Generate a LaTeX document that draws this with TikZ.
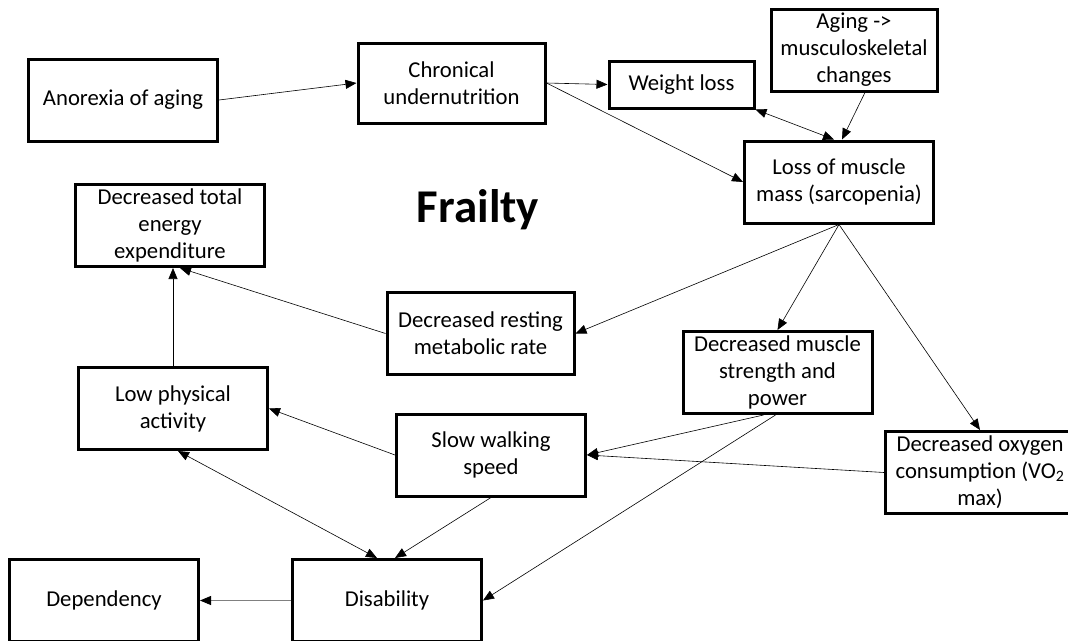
\documentclass[tikz,border=0pt]{standalone}
\usepackage{fontspec}
\setmainfont{Carlito}
\usepackage{tikz}
\usetikzlibrary{arrows.meta,positioning}

\begin{document}
\begin{tikzpicture}[x=1pt,y=-1pt,>={Triangle[length=11pt,width=9pt]},
  box/.style={draw,line width=3pt,align=center,inner sep=0pt,minimum width=189pt,minimum height=82pt,font=\fontsize{22.7}{27}\selectfont},
  con/.style={->,line width=0.6pt},
  greycon/.style={line width=0.8pt,gray,-{Triangle[length=11pt,width=9pt,black]}}]
  \useasboundingbox (0,0) rectangle (1068,640);
  \node[box](anx) at (123,100){Anorexia of aging};
  \node[box,minimum width=187pt,minimum height=80pt](und) at (451.5,83){Chronical\\undernutrition};
  \node[box,minimum width=145pt,minimum height=47pt](wl) at (681.5,84.5){Weight loss};
  \node[box,minimum width=166pt](msk) at (854,50){Aging ->\\musculoskeletal\\changes};
  \node[box](sarc) at (839,182){Loss of muscle\\mass (sarcopenia)};
  \node[box](tee) at (170,225.5){Decreased total\\energy\\expenditure};
  \node[box,minimum width=187pt](rmr) at (480.5,333.5){Decreased resting\\metabolic rate};
  \node[box](str) at (777.5,372.5){Decreased muscle\\strength and\\power};
  \node[box](vo2) at (980,472.5){Decreased oxygen\\consumption (VO\textsubscript{2}\\max)};
  \node[box](lpa) at (173,408.5){Low physical\\activity};
  \node[box](sws) at (491,455){Slow walking\\speed};
  \node[box](dep) at (104,600.5){Dependency};
  \node[box](dis) at (387,600.5){Disability};
  \node[font=\fontsize{47}{56}\selectfont\bfseries](fr) at (478,210){Frailty};
  \draw[con](anx.east)--(und.west);\draw[con](und.east)--(wl.west);\draw[con](und.east)--(sarc.west);
  \draw[con,<->](wl.south east)--([xshift=-5pt]sarc.north);\draw[con]([xshift=11pt]msk.south)--([xshift=3pt]sarc.north);
  \draw[con](sarc.south)--(rmr.east);\draw[con](sarc.south)--(str.north);\draw[con](sarc.south)--(vo2.north);
  \draw[con](vo2.west)--(sws.east);\draw[con]([xshift=-14pt]str.south)--(sws.east);\draw[con]([xshift=-2pt]str.south)--(dis.east);
  \draw[con](sws.west)--(lpa.east);\draw[con](sws.south)--([xshift=8pt]dis.north);
  \draw[con,<->]([xshift=5pt]lpa.south)--([xshift=-10pt]dis.north);
  \draw[con](lpa.north)--(lpa.north|-tee.south);\draw[con](rmr.west)--([xshift=10pt]tee.south);
  \draw[greycon](dis.west)--(dep.east);
\end{tikzpicture}
\end{document}
